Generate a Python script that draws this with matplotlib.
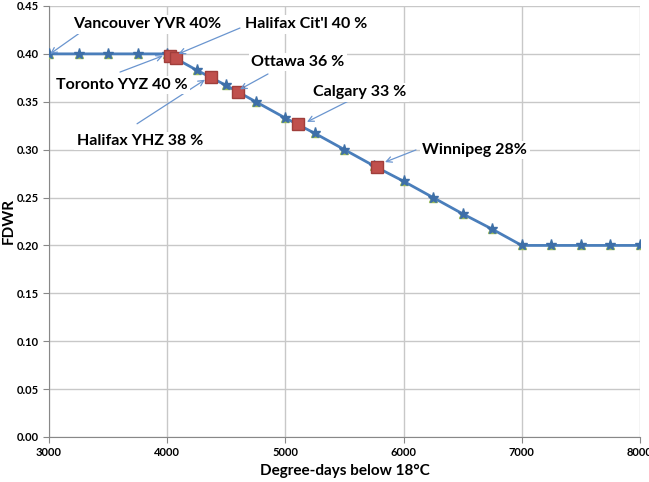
import matplotlib.pyplot as plt

# FDWR limit curve
hdd = [3000, 3250, 3500, 3750, 4000, 4250, 4500, 4750, 5000, 5250, 5500,
       5750, 6000, 6250, 6500, 6750, 7000, 7250, 7500, 7750, 8000]
fdwr = [0.400, 0.400, 0.400, 0.400, 0.400, 0.383, 0.367, 0.350, 0.333, 0.317, 0.300,
        0.283, 0.267, 0.250, 0.233, 0.217, 0.200, 0.200, 0.200, 0.200, 0.200]

# cities (red squares)
city_hdd = [4024, 4074, 4370, 4600, 5106, 5775]
city_fdwr = [0.398, 0.396, 0.376, 0.360, 0.327, 0.282]

# label text, text centre, arrow tail, arrow head (data coords)
labels = [
    ("Vancouver YVR 40%", (3829, 0.431), (3262, 0.422), (3010, 0.400)),
    ("Halifax Cit'l 40 %", (5174, 0.431), (4616, 0.427), (4095, 0.400)),
    ("Toronto YYZ 40 %", (3618, 0.3675), (3601, 0.381), (3964, 0.398)),
    ("Ottawa 36 %", (5107, 0.3915), (4853, 0.379), (4616, 0.363)),
    ("Halifax YHZ 38 %", (3770, 0.309), (3745, 0.327), (4320, 0.373)),
    ("Calgary 33 %", (5631, 0.360), (5538, 0.351), (5183, 0.329)),
    ("Winnipeg 28%", (6604, 0.2997), (6105, 0.2997), (5843, 0.287)),
]

plt.rcParams["font.family"] = ["Lato", "DejaVu Sans"]

fig = plt.figure(figsize=(6.49, 4.82), dpi=100)
ax = fig.add_axes([0.0755, 0.0934, 0.9105, 0.8942])

ax.plot(hdd, fdwr, linestyle="none", marker="^", markersize=6,
        color="#9BBB59", zorder=3)
ax.plot(hdd, fdwr, color="#4A7EBB", linewidth=2, marker="*", markersize=8,
        markerfacecolor="#3E6FA8", markeredgecolor="#3E6FA8", zorder=4)
ax.plot(city_hdd, city_fdwr, linestyle="none", marker="s", markersize=8,
        markerfacecolor="#C0504D", markeredgecolor="#A03E3B", zorder=5)

for text, pos, tail, head in labels:
    ax.annotate("", xy=head, xytext=tail,
                arrowprops=dict(arrowstyle="->", color="#6A95CF", lw=0.9,
                                shrinkA=0, shrinkB=0), zorder=6)
    ax.text(pos[0], pos[1], text, ha="center", va="center", fontsize=11.5,
            fontweight="bold", zorder=7,
            bbox=dict(boxstyle="square,pad=0.15", facecolor="white", edgecolor="none"))

ax.set_xlim(3000, 8000)
ax.set_ylim(0, 0.45)
ax.set_xticks(range(3000, 8001, 1000))
ax.set_yticks([i * 0.05 for i in range(10)])
ax.yaxis.set_major_formatter(plt.FormatStrFormatter("%.2f"))
ax.grid(True, color="#C8C8C8", linewidth=1)
ax.set_axisbelow(True)
for side in ["top", "right"]:
    ax.spines[side].set_visible(False)
for side in ["left", "bottom"]:
    ax.spines[side].set_color("#888888")
ax.tick_params(axis="both", labelsize=8, color="#888888", length=4)
for lbl in ax.get_xticklabels() + ax.get_yticklabels():
    lbl.set_fontweight("bold")

ax.set_xlabel("Degree-days below 18°C", fontsize=11, fontweight="bold")
ax.set_ylabel("FDWR", fontsize=11, fontweight="bold")
ax.xaxis.set_label_coords(0.5, -0.062)
ax.yaxis.set_label_coords(-0.056, 0.5)

fig.savefig("out.png", dpi=100)
